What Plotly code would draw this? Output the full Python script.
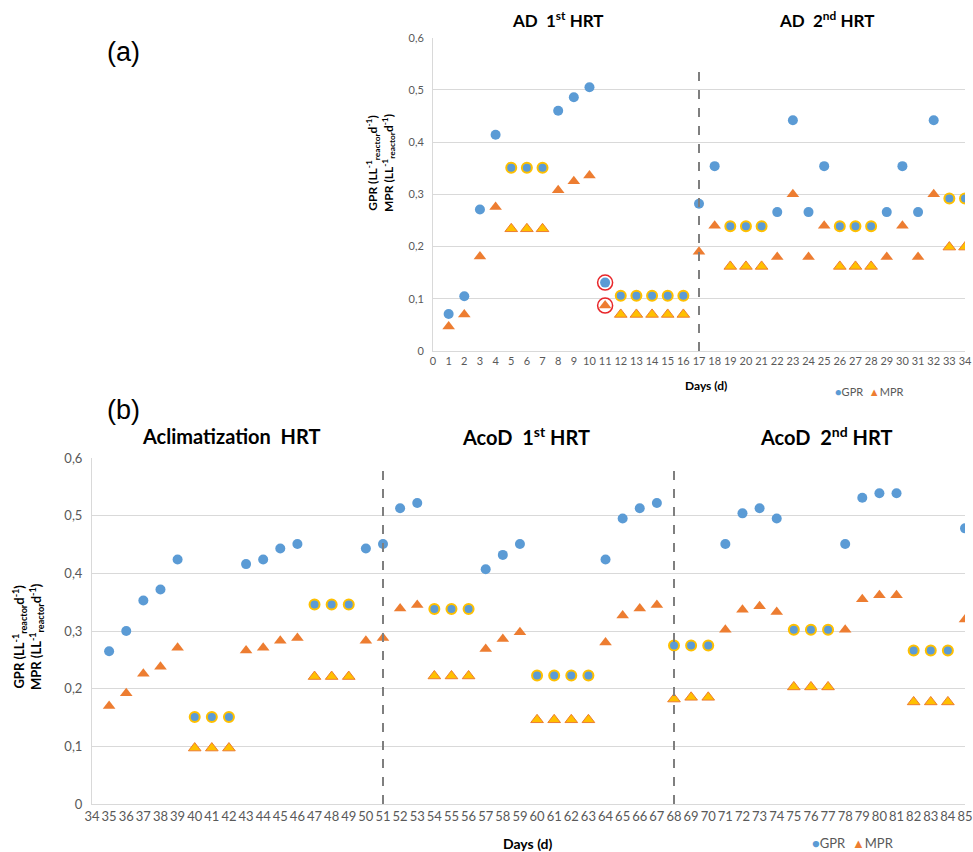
import plotly.graph_objects as go

# ---------------- data ----------------
days_a = list(range(1, 35))
gpr_a = [0.071, 0.105, 0.271, 0.414, 0.351, 0.351, 0.351, 0.460, 0.486, 0.505,
         0.131, 0.106, 0.106, 0.106, 0.106, 0.106, 0.282, 0.354, 0.239, 0.239,
         0.239, 0.266, 0.442, 0.266, 0.354, 0.239, 0.239, 0.239, 0.266, 0.354,
         0.266, 0.442, 0.292, 0.292]
mpr_a = [0.047, 0.070, 0.181, 0.276, 0.234, 0.234, 0.234, 0.308, 0.325, 0.336,
         0.087, 0.070, 0.070, 0.070, 0.070, 0.070, 0.190, 0.240, 0.162, 0.162,
         0.162, 0.180, 0.300, 0.180, 0.240, 0.162, 0.162, 0.162, 0.180, 0.240,
         0.180, 0.300, 0.199, 0.199]
hl_a = [0, 0, 0, 0, 1, 1, 1, 0, 0, 0,
        0, 1, 1, 1, 1, 1, 0, 0, 1, 1,
        1, 0, 0, 0, 0, 1, 1, 1, 0, 0,
        0, 0, 1, 1]
outlier_days_a = [11]

days_b = list(range(35, 86))
gpr_b = [0.265, 0.300, 0.353, 0.372, 0.424, 0.151, 0.151, 0.151, 0.416, 0.424,
         0.443, 0.451, 0.346, 0.346, 0.346, 0.443, 0.451, 0.513, 0.522, 0.338,
         0.338, 0.338, 0.407, 0.432, 0.451, 0.223, 0.223, 0.223, 0.223, 0.424,
         0.495, 0.513, 0.522, 0.275, 0.275, 0.275, 0.451, 0.504, 0.513, 0.495,
         0.302, 0.302, 0.302, 0.451, 0.531, 0.539, 0.539, 0.266, 0.266, 0.266,
         0.478]
mpr_b = [0.170, 0.192, 0.226, 0.238, 0.271, 0.097, 0.097, 0.097, 0.266, 0.271,
         0.283, 0.288, 0.221, 0.221, 0.221, 0.283, 0.288, 0.339, 0.345, 0.222,
         0.222, 0.222, 0.269, 0.286, 0.298, 0.146, 0.146, 0.146, 0.146, 0.280,
         0.327, 0.339, 0.345, 0.182, 0.185, 0.185, 0.302, 0.337, 0.343, 0.333,
         0.203, 0.203, 0.203, 0.302, 0.355, 0.362, 0.362, 0.177, 0.177, 0.177,
         0.320]
hl_b = [0, 0, 0, 0, 0, 1, 1, 1, 0, 0,
        0, 0, 1, 1, 1, 0, 0, 0, 0, 1,
        1, 1, 0, 0, 0, 1, 1, 1, 1, 0,
        0, 0, 0, 1, 1, 1, 0, 0, 0, 0,
        1, 1, 1, 0, 0, 0, 0, 1, 1, 1,
        0]

y_ticks = [0, 0.1, 0.2, 0.3, 0.4, 0.5, 0.6]
y_tick_text = ["0", "0,1", "0,2", "0,3", "0,4", "0,5", "0,6"]

hrt_break_a = [17]
hrt_break_b = [51, 68]
break_top_a = 0.537
break_top_b = 0.584

titles_a = ["<b>AD  1<sup>st</sup> HRT</b>", "<b>AD  2<sup>nd</sup> HRT</b>"]
titles_b = ["<b>Aclimatization  HRT</b>", "<b>AcoD  1<sup>st</sup> HRT</b>", "<b>AcoD  2<sup>nd</sup> HRT</b>"]
series_names = ["GPR", "MPR"]

# ---------------- styling ----------------
BLUE = "#5B9BD5"
ORANGE = "#ED7D31"
GOLD = "#FFC000"
GRID = "#D9D9D9"
TICK = "#595959"
FONT = "Lato"
W, H = 973, 852


def px_x(p):
    return p / W


def px_y(p):
    return 1 - p / H


fig = go.Figure()


def add_panel(days, gpr, mpr, hl, xa, ya):
    fig.add_trace(go.Scatter(
        x=days, y=gpr, mode="markers", name=series_names[0], xaxis=xa, yaxis=ya, showlegend=False,
        marker=dict(symbol="circle", size=10, color=BLUE,
                    line=dict(color=[GOLD if f else BLUE for f in hl],
                              width=[2 if f else 0 for f in hl])),
    ))
    fig.add_trace(go.Scatter(
        x=days, y=mpr, mode="markers", name=series_names[1], xaxis=xa, yaxis=ya, showlegend=False,
        marker=dict(symbol="triangle-up", size=11,
                    color=[GOLD if f else ORANGE for f in hl],
                    line=dict(color=ORANGE, width=[1 if f else 0 for f in hl])),
    ))


add_panel(days_a, gpr_a, mpr_a, hl_a, "x", "y")
add_panel(days_b, gpr_b, mpr_b, hl_b, "x2", "y2")

# outlier red circles (panel a)
out_x, out_y = [], []
for d in outlier_days_a:
    i = days_a.index(d)
    out_x += [d, d]
    out_y += [gpr_a[i], mpr_a[i]]
fig.add_trace(go.Scatter(
    x=out_x, y=out_y, mode="markers", xaxis="x", yaxis="y", showlegend=False,
    marker=dict(symbol="circle-open", size=15, color="#E8262A", line=dict(width=1.5)),
    hoverinfo="skip",
))

shapes = []
for d in hrt_break_a:
    shapes.append(dict(type="line", xref="x", yref="y", x0=d, x1=d, y0=0, y1=break_top_a,
                       line=dict(color="#7F7F7F", width=2, dash="dash")))
for d in hrt_break_b:
    shapes.append(dict(type="line", xref="x2", yref="y2", x0=d, x1=d, y0=0, y1=break_top_b,
                       line=dict(color="#7F7F7F", width=2, dash="dash")))

axis_common = dict(showgrid=False, zeroline=False, showline=True, linecolor=GRID, linewidth=1,
                   ticks="", tickangle=0, automargin=False)
yaxis_common = dict(showgrid=True, gridcolor=GRID, gridwidth=1, zeroline=False, showline=True,
                    linecolor=GRID, linewidth=1, ticks="", tickvals=y_ticks, ticktext=y_tick_text,
                    range=[0, 0.6], automargin=False, ticklabelstandoff=6)

annotations = []


def ann(text, x, y, size, color="black", family=FONT, angle=0, xanchor="center"):
    annotations.append(dict(text=text, x=px_x(x), y=px_y(y), xref="paper", yref="paper",
                            xanchor=xanchor, yanchor="middle", textangle=angle, showarrow=False,
                            font=dict(size=size, color=color, family=family)))


# panel titles
for t, xc in zip(titles_a, [558, 826]):
    ann(t, xc, 19, 17)
for t, xc in zip(titles_b, [231, 526, 826]):
    ann(t, xc, 436, 20)
# panel letters
ann("(a)", 123, 52, 27, family="Liberation Sans")
ann("(b)", 123, 410, 27, family="Liberation Sans")
# y-axis titles
ytitle = ("<b>GPR (LL<sup>-1</sup><sub>reactor</sub>d<sup>-1</sup>)<br>"
          "MPR (LL<sup>-1</sup><sub>reactor</sub>d<sup>-1</sup>)</b>")
ann(ytitle, 380, 163, 12, angle=-90)
ann(ytitle, 28, 637, 13, angle=-90)
# x-axis titles
ann("<b>Days (d)</b>", 706, 385, 12)
ann("<b>Days (d)</b>", 528, 843, 14)
# legends
leg = (f"<span style='color:{BLUE}'>●</span>{series_names[0]}  "
       f"<span style='color:{ORANGE}'>▲</span>{series_names[1]}")
ann(leg, 833, 391, 11, color=TICK, xanchor="left")
ann(leg, 810, 843, 13, color=TICK, xanchor="left")

fig.update_layout(
    width=W, height=H,
    margin=dict(l=0, r=0, t=0, b=0, pad=0),
    paper_bgcolor="white", plot_bgcolor="white",
    font=dict(family=FONT, color=TICK),
    showlegend=False,
    xaxis=dict(domain=[px_x(433), px_x(965)], range=[0, 34], tickmode="linear", tick0=0, dtick=1,
               anchor="y", tickfont=dict(size=11, color=TICK), **axis_common),
    yaxis=dict(domain=[px_y(351), px_y(37.7)], anchor="x", tickfont=dict(size=11, color=TICK),
               **yaxis_common),
    xaxis2=dict(domain=[px_x(92), px_x(965)], range=[34, 85], tickmode="linear", tick0=34, dtick=1,
                anchor="y2", tickfont=dict(size=13, color=TICK), **axis_common),
    yaxis2=dict(domain=[px_y(804), px_y(458)], anchor="x2", tickfont=dict(size=13, color=TICK),
                **yaxis_common),
    shapes=shapes,
    annotations=annotations,
    hovermode="closest",
)

fig.write_html("out.html", config={"responsive": False, "displayModeBar": False},
               post_script="document.body.style.margin='0';document.body.style.overflow='hidden';")
